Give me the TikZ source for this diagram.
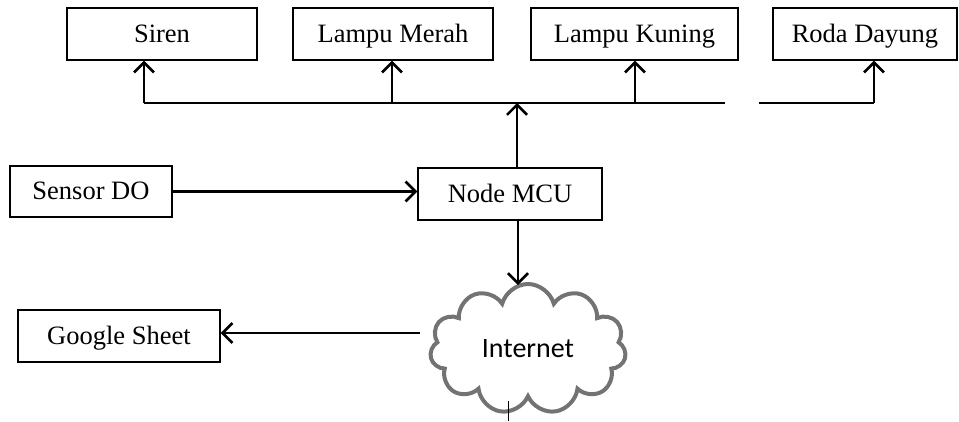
\documentclass[tikz,border=0pt]{standalone}
\usepackage{fontspec}
\setmainfont{Liberation Serif}
\newfontfamily\calibri{Carlito}
\usetikzlibrary{shapes.symbols,arrows.meta}
\tikzset{every picture/.style={line width=1.2pt},
	kotak/.style={draw, rectangle, minimum height=52pt, inner sep=0pt, text height=18pt, text depth=1.5pt,
		font=\fontsize{26.5}{30}\selectfont},
	panah/.style={line width=2.6pt, -{Straight Barb[length=10pt,width=20pt,line width=2.6pt]}},
	garis/.style={line width=2.6pt}}
\begin{document}
\begin{tikzpicture}[x=1pt, y=-1pt, line join=miter]
	\useasboundingbox (0,0) rectangle (959,421);
	\node[kotak, minimum width=190pt] (siren) at (162,34) {Siren};
	\node[kotak, minimum width=200pt] (merah) at (393,34) {Lampu Merah};
	\node[kotak, minimum width=207pt] (kuning) at (634.5,34) {Lampu Kuning};
	\node[kotak, minimum width=184pt] (roda) at (865,34) {Roda Dayung};
	\node[kotak, minimum width=162pt, minimum height=51pt] (sensor) at (91,191.5) {Sensor DO};
	\node[kotak, minimum width=184pt] (mcu) at (510,194) {Node MCU};
	\node[kotak, minimum width=202pt] (sheet) at (119,336) {Google Sheet};
	\node[cloud, draw=black!55, line width=4pt, cloud puffs=11, cloud ignores aspect,
		minimum width=196pt, minimum height=130pt, inner sep=0pt,
		font=\calibri\fontsize{28}{32}\selectfont] (inet) at (528,349) {Internet};
	\path
	(144,103) coordinate (B1)
	(725,103) coordinate (B2)
	(759,103) coordinate (B3)
	(874,103) coordinate (B4)
	(517,103) coordinate (M);
	% bus ke aktuator
	\draw[garis] (B1)--(B2) (B3)--(B4);
	\draw[panah] (B1)--(siren.south -| B1);
	\draw[panah] (392,103)--(merah.south -| 392,0);
	\draw[panah] (635,103)--(kuning.south -| 635,0);
	\draw[panah] (B4)--(roda.south -| B4);
	\draw[panah] (mcu.north -| M)--(M);
	\draw[panah] (sensor.east)--(mcu.west |- sensor.east);
	\draw[panah] (mcu.south -| 518,0)--(518,285);
	\draw[panah] (420,333)--(sheet.east |- 0,333);
	\draw[line width=1pt] (508,401)--(508,421);
\end{tikzpicture}
\end{document}
